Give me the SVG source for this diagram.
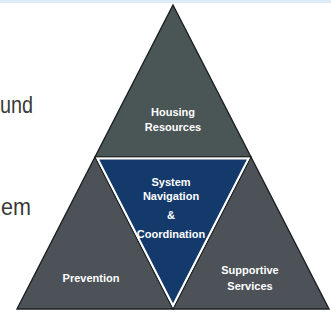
<svg xmlns="http://www.w3.org/2000/svg" width="331" height="320" viewBox="0 0 331 320">
<style>
.side{font-family:"Liberation Sans",Arial,sans-serif;font-size:24px;fill:#3a3a3a}
.lbl{font-family:"Liberation Sans",Arial,sans-serif;font-size:11px;font-weight:bold;fill:#ffffff;text-anchor:middle}
.gray{fill:#4c5257;stroke:#1c1f22;stroke-width:1.4;stroke-linejoin:miter}
.navy{fill:#143a6c;stroke:#ffffff;stroke-width:2;stroke-linejoin:miter}
</style>
<rect x="0" y="0" width="331" height="320" fill="#ffffff"/>
<rect x="0" y="0" width="331" height="3" fill="#dcedf7"/>
<text class="side" x="0" y="113" textLength="33" lengthAdjust="spacingAndGlyphs">und</text>
<text class="side" x="1" y="215" textLength="30" lengthAdjust="spacingAndGlyphs">em</text>
<g id="housing">
<polygon class="gray" points="173,5 251,157 95,157" style="fill:#4a5555"/>
<text class="lbl" x="173" y="116">Housing</text>
<text class="lbl" x="173" y="131">Resources</text>
</g>
<g id="prevention">
<polygon class="gray" points="95,157 173,309 17,309"/>
<text class="lbl" x="91" y="282">Prevention</text>
</g>
<g id="supportive">
<polygon class="gray" points="251,157 329,309 173,309"/>
<text class="lbl" x="250" y="274">Supportive</text>
<text class="lbl" x="250" y="290">Services</text>
</g>
<g id="navigation">
<polygon class="navy" points="97.5,158.5 248.5,158.5 173,305.5"/>
<text class="lbl" x="171" y="186">System</text>
<text class="lbl" x="171" y="200">Navigation</text>
<text class="lbl" x="171" y="219">&amp;</text>
<text class="lbl" x="171" y="238">Coordination</text>
</g>
</svg>
